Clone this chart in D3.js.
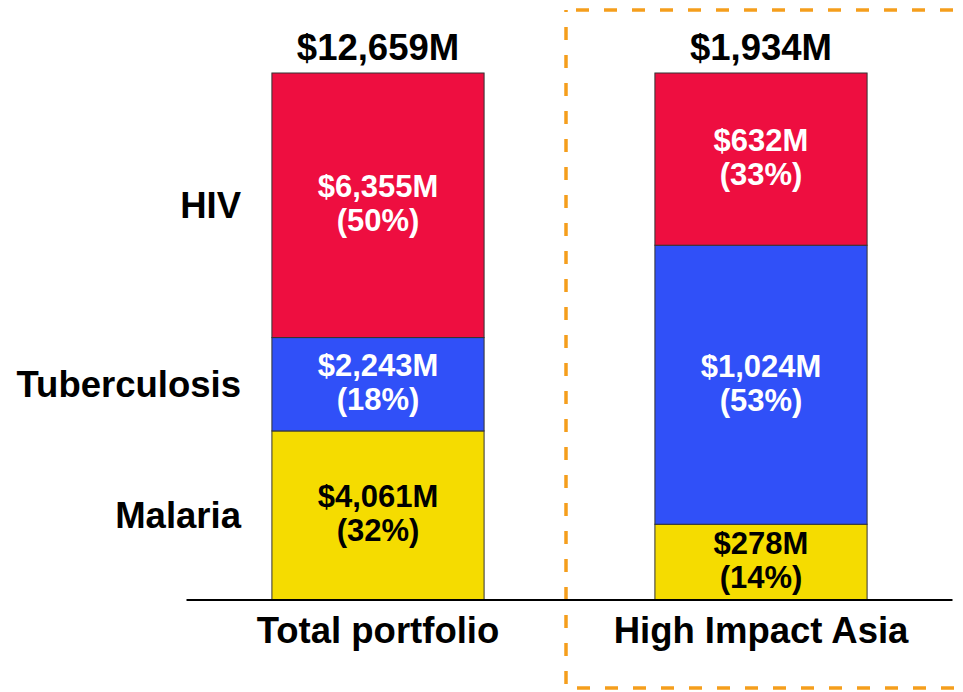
<!DOCTYPE html>
<html>
<head>
<meta charset="utf-8">
<script src="https://cdn.jsdelivr.net/npm/d3@7"></script>
<style>
  html, body { margin: 0; padding: 0; background: #fff; }
  svg { display: block; }
  text { font-family: "Liberation Sans", Arial, sans-serif; font-weight: bold; }
</style>
</head>
<body>
<svg id="chart" width="963" height="692"></svg>
<script>
// Portfolios shown as bars
const portfolios = ["Total portfolio", "High Impact Asia"];
// Disease components, bottom to top of each stack
const diseases = ["Malaria", "Tuberculosis", "HIV"];
// Funding in US$ millions per portfolio
const malaria = [4061, 278];
const tuberculosis = [2243, 1024];
const hiv = [6355, 632];

const colors = { "Malaria": "#f5dc00", "Tuberculosis": "#3050f8", "HIV": "#ee0e40" };
const labelColors = { "Malaria": "#000", "Tuberculosis": "#fff", "HIV": "#fff" };

const rows = portfolios.map((p, i) => ({
  portfolio: p,
  "Malaria": malaria[i],
  "Tuberculosis": tuberculosis[i],
  "HIV": hiv[i]
}));
rows.forEach(r => { r.total = diseases.reduce((s, k) => s + r[k], 0); });

const svg = d3.select("#chart");
const fmt = d3.format(",");

const x = d3.scaleBand()
  .domain(portfolios)
  .range([186.5, 952.5])
  .paddingInner(0.446)
  .paddingOuter(0.223);

const y = d3.scaleLinear().domain([0, 1]).range([600, 73]);

const stacked = d3.stack().keys(diseases).offset(d3.stackOffsetExpand)(rows);

// Dashed highlight frame around the second portfolio
svg.append("rect")
  .attr("x", 566).attr("y", 10)
  .attr("width", 420).attr("height", 678)
  .attr("fill", "none")
  .attr("stroke", "#f59e1c")
  .attr("stroke-width", 3.5)
  .attr("stroke-dasharray", "13,15")
  .attr("stroke-dashoffset", -10);

// Stacked segments
const layer = svg.append("g").selectAll("g")
  .data(stacked).join("g")
  .attr("fill", d => colors[d.key]);

layer.selectAll("rect")
  .data(d => d.map(s => ({ key: d.key, s })))
  .join("rect")
  .attr("x", d => x(d.s.data.portfolio))
  .attr("width", x.bandwidth())
  .attr("y", d => y(d.s[1]))
  .attr("height", d => y(d.s[0]) - y(d.s[1]))
  .attr("stroke", "#333")
  .attr("stroke-width", 1);

// Value and share labels inside each segment
const segLabels = svg.append("g").selectAll("g")
  .data(stacked.flatMap(d => d.map(s => ({ key: d.key, s }))))
  .join("g")
  .attr("transform", d => {
    const cx = x(d.s.data.portfolio) + x.bandwidth() / 2;
    const cy = (y(d.s[0]) + y(d.s[1])) / 2;
    return `translate(${cx},${cy})`;
  })
  .attr("fill", d => labelColors[d.key])
  .attr("text-anchor", "middle")
  .style("font-size", "31px");

segLabels.append("text")
  .attr("y", -8)
  .text(d => `$${fmt(d.s.data[d.key])}M`);
segLabels.append("text")
  .attr("y", 26)
  .text(d => `(${Math.round(d.s.data[d.key] / d.s.data.total * 100)}%)`);

// Totals above bars
svg.append("g").selectAll("text")
  .data(rows).join("text")
  .attr("x", d => x(d.portfolio) + x.bandwidth() / 2)
  .attr("y", 60)
  .attr("text-anchor", "middle")
  .style("font-size", "36.5px")
  .attr("fill", "#000")
  .text(d => `$${fmt(d.total)}M`);

// Baseline
svg.append("line")
  .attr("x1", x.range()[0]).attr("x2", x.range()[1])
  .attr("y1", y(0)).attr("y2", y(0))
  .attr("stroke", "#000").attr("stroke-width", 2);

// Portfolio names under the baseline
const xAxis = d3.axisBottom(x).tickSize(0).tickPadding(0);
const gx = svg.append("g").attr("transform", `translate(0,${y(0)})`).call(xAxis);
gx.select(".domain").remove();
gx.selectAll("text")
  .attr("y", 43).attr("dy", null)
  .attr("fill", "#000")
  .style("font-size", "36.5px")
  .style("font-family", "'Liberation Sans', Arial, sans-serif")
  .style("font-weight", "bold");

// Disease names beside the first bar
const first = stacked.map(d => ({ key: d.key, s: d[0] }));
svg.append("g").selectAll("text")
  .data(first).join("text")
  .attr("x", 241)
  .attr("y", d => (y(d.s[0]) + y(d.s[1])) / 2)
  .attr("dy", "0.35em")
  .attr("text-anchor", "end")
  .style("font-size", "36.5px")
  .attr("fill", "#000")
  .text(d => d.key);
</script>
</body>
</html>
